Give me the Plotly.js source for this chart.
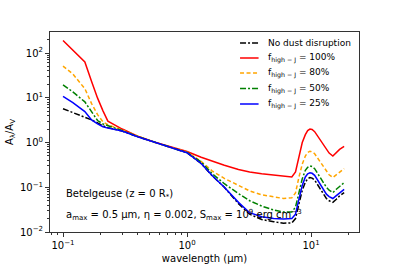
<!DOCTYPE html>
<html><head><meta charset="utf-8">
<script src="https://cdn.plot.ly/plotly-3.0.1.min.js"></script>
<style>html,body{margin:0;padding:0;background:#fff}#c{width:399px;height:266px}</style>
</head><body><div id="c"></div>
<script>
const wavelength = [0.1,0.12,0.15,0.17,0.19,0.21,0.23,0.3,0.4,0.55,0.75,1.0,1.3,1.6,2.0,2.6,3.2,4,5,6,7,7.5,8,8.5,9,9.4,9.8,10.2,10.7,11.5,12.5,13.3,14,15,16,17,18.5];
const noDust = [5.7,4.7,3.7,3.2,2.75,2.35,2.15,1.8,1.35,1.0,0.77,0.59,0.34,0.18,0.1,0.043,0.025,0.019,0.017,0.0157,0.016,0.02,0.043,0.085,0.13,0.155,0.165,0.16,0.145,0.105,0.072,0.056,0.05,0.046,0.054,0.064,0.076];
const f100 = [190,115,63,23,9.8,5.1,3.0,2.0,1.38,1.02,0.78,0.63,0.47,0.38,0.31,0.25,0.22,0.2,0.185,0.175,0.17,0.22,0.5,1.0,1.5,1.85,2.0,1.95,1.75,1.3,0.9,0.68,0.58,0.5,0.6,0.7,0.82];
const f80 = [51,34,16,7.4,4.2,2.9,2.5,1.9,1.37,1.0,0.77,0.61,0.38,0.23,0.158,0.11,0.083,0.068,0.06,0.056,0.058,0.075,0.17,0.33,0.5,0.6,0.64,0.62,0.56,0.42,0.29,0.22,0.19,0.165,0.19,0.22,0.26];
const f50 = [19.5,13.5,8.1,5.0,3.1,2.6,2.4,1.85,1.36,1.0,0.77,0.6,0.37,0.2,0.12,0.072,0.05,0.038,0.031,0.028,0.028,0.036,0.08,0.155,0.24,0.28,0.30,0.29,0.26,0.19,0.13,0.1,0.086,0.076,0.09,0.105,0.127];
const f25 = [10.7,7.8,4.9,3.2,2.6,2.25,2.1,1.8,1.35,1.0,0.77,0.59,0.34,0.18,0.1,0.046,0.027,0.022,0.02,0.0195,0.02,0.025,0.055,0.11,0.17,0.2,0.21,0.205,0.185,0.135,0.092,0.07,0.062,0.056,0.065,0.076,0.09];
const seriesNames = ['No dust disruption','f<sub>high − J</sub> = 100%','f<sub>high − J</sub> = 80%','f<sub>high − J</sub> = 50%','f<sub>high − J</sub> = 25%'];
const xTickVals = [0.1,1,10];
const xTickText = ['10<sup>−1</sup>','10<sup>0</sup>','10<sup>1</sup>'];
const yTickVals = [0.01,0.1,1,10,100];
const yTickText = ['10<sup>−2</sup>','10<sup>−1</sup>','10<sup>0</sup>','10<sup>1</sup>','10<sup>2</sup>'];

function minors(lo, hi){const v=[];for(let e=lo;e<hi;e++){for(let k=2;k<=9;k++)v.push(k*Math.pow(10,e));}return v;}

const styles = [
  {color:'#000000', dash:'6px,2px,2px,2px'},
  {color:'#ff0000', dash:'solid'},
  {color:'#ffa500', dash:'4px,2.5px'},
  {color:'#008000', dash:'6px,2px,2px,2px'},
  {color:'#0000ff', dash:'solid'}
];
const ys = [noDust,f100,f80,f50,f25];
const traces = ys.map((y,i)=>({x:wavelength,y:y,mode:'lines',name:seriesNames[i],showlegend:false,
  line:{color:styles[i].color,dash:styles[i].dash,width:1.5,shape:'linear'}}));

const font = {family:'DejaVu Sans', size:10, color:'#000'};
// custom legend (paper coordinates)
const legY = [0.945,0.87,0.795,0.717,0.64];
const shapes = [], anns = [];
legY.forEach((yy,i)=>{
  shapes.push({type:'line',xref:'paper',yref:'paper',x0:0.615,x1:0.675,y0:yy,y1:yy,line:{color:styles[i].color,dash:styles[i].dash,width:1.5}});
  anns.push({xref:'paper',yref:'paper',x:0.70,y:yy,xanchor:'left',yanchor:'middle',showarrow:false,text:seriesNames[i],font:{family:'DejaVu Sans',size:9,color:'#000'}});
});
anns.push({xref:'paper',yref:'paper',x:0.045,y:0.19,xanchor:'left',yanchor:'middle',showarrow:false,text:'Betelgeuse (z = 0 R<sub>*</sub>)',font:font});
anns.push({xref:'paper',yref:'paper',x:0.045,y:0.085,xanchor:'left',yanchor:'middle',showarrow:false,text:'a<sub>max</sub> = 0.5 μm, η = 0.002, S<sub>max</sub> = 10<sup>9</sup> erg cm<sup>−3</sup>',font:font});

const layout = {
  width:399,height:266,
  margin:{l:50,r:40,t:32,b:34},
  paper_bgcolor:'#fff',plot_bgcolor:'#fff',
  font:font,
  showlegend:false,
  xaxis:{type:'log',range:[-1.105,1.387],showgrid:false,zeroline:false,showline:true,mirror:true,linecolor:'#333',linewidth:1,
    ticks:'outside',ticklen:4,tickcolor:'#333',tickvals:xTickVals,ticktext:xTickText,tickfont:font,
    minor:{tickvals:minors(-2,2),ticks:'outside',ticklen:2,tickcolor:'#333'},
    title:{text:'wavelength (μm)',font:font,standoff:4}},
  yaxis:{type:'log',range:[-2,2.47],showgrid:false,zeroline:false,showline:true,mirror:true,linecolor:'#333',linewidth:1,
    ticks:'outside',ticklen:4,tickcolor:'#333',tickvals:yTickVals,ticktext:yTickText,tickfont:font,
    minor:{tickvals:minors(-2,3),ticks:'outside',ticklen:2,tickcolor:'#333'},
    title:{text:'A<sub>λ</sub>/A<sub>V</sub>',font:font,standoff:4}},
  shapes:shapes,
  annotations:anns
};
Plotly.newPlot('c',traces,layout,{staticPlot:true,displayModeBar:false});
</script></body></html>
